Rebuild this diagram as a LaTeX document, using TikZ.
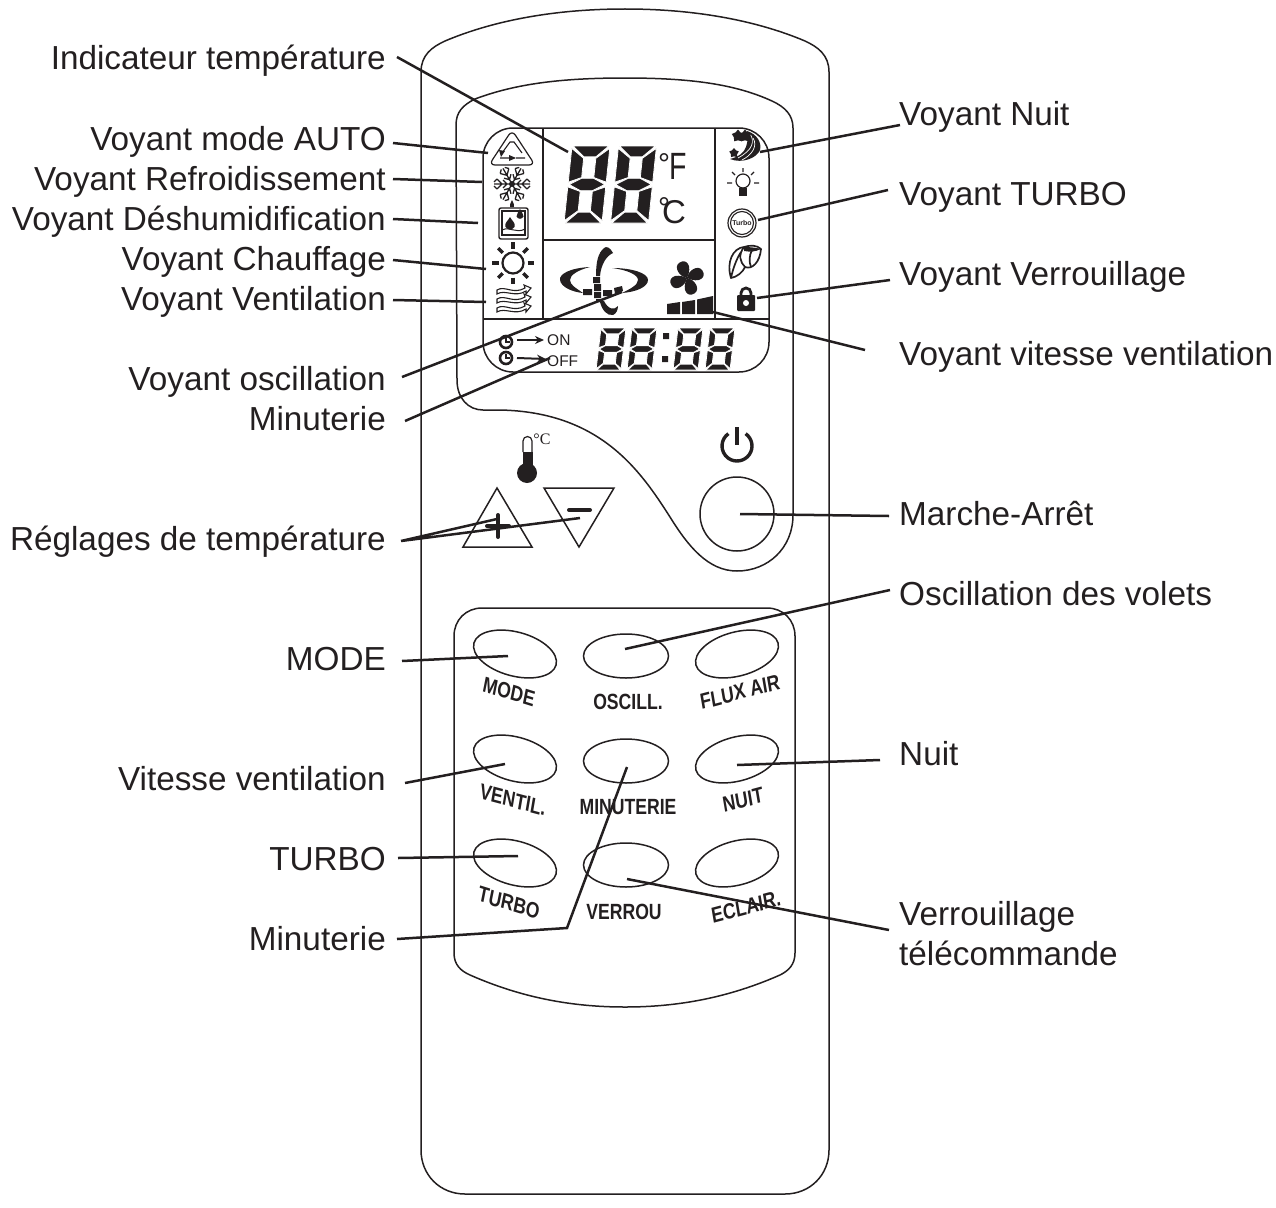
\documentclass[tikz,border=0pt]{standalone}
\usepackage{fontspec}
\setmainfont{Liberation Sans}
\newfontfamily\serifcap{Liberation Serif}
\usetikzlibrary{shapes.geometric,arrows.meta}
\definecolor{ink}{HTML}{231F20}
\tikzset{
  lblr/.style={anchor=base east,inner sep=0pt,text=ink,font=\fontsize{33.3}{33}\selectfont},
  lbll/.style={anchor=base west,inner sep=0pt,text=ink,font=\fontsize{33.3}{33}\selectfont},
  outline/.style={draw=ink,line width=1.5pt},
  leader/.style={draw=ink,line width=2.5pt},
  btn/.style={ellipse,draw=ink,line width=1.5pt,inner sep=0pt,minimum width=85pt,minimum height=44pt},
  btxt/.style={inner sep=0pt,text=ink,font=\fontsize{22}{22}\selectfont\bfseries,xscale=.8,transform shape},
  thin/.style={draw=ink,line width=1pt},
  seg/.style={fill=ink,draw=white,line width=.8pt,line join=miter}
}
\newcommand{\segdigit}[7]{%
\begin{scope}[shift={(#1,#2)},x={(#3pt,0pt)},y={(#4pt,#5pt)}]
\def\dl{#6}\def\dr{#7}
\path[seg] (.03,1)--(.97,1)--(\dr,.86)--(\dl,.86)--cycle;
\path[seg] (1,.97)--(1,.53)--(\dr,.59)--(\dr,.84)--cycle;
\path[seg] (1,.47)--(1,.03)--(\dr,.16)--(\dr,.41)--cycle;
\path[seg] (.03,0)--(.97,0)--(\dr,.14)--(\dl,.14)--cycle;
\path[seg] (0,.47)--(0,.03)--(\dl,.16)--(\dl,.41)--cycle;
\path[seg] (0,.97)--(0,.53)--(\dl,.59)--(\dl,.84)--cycle;
\path[seg] (.03,.5)--(\dl,.58)--(\dr,.58)--(.97,.5)--(\dr,.42)--(\dl,.42)--cycle;
\end{scope}}
\newcommand{\windline}[1]{%
\begin{scope}[shift={(497,#1)}]
\draw[thin,line width=1.1pt] (0,-1) .. controls (8,-6) and (16,4) .. (28,-3) -- (27,-6) -- (34,-3) -- (29,3) -- (29,0) .. controls (18,7) and (8,-2) .. (0,3) -- cycle;
\end{scope}}
\begin{document}
\begin{tikzpicture}[x=1pt,y=-1pt]
\useasboundingbox (0,0) rectangle (1276,1207);
% body
\draw[outline] (421,1150) -- (421,72) .. controls (421,55) and (432,47) .. (445,41)
  .. controls (490,22) and (550,9) .. (625,9) .. controls (700,9) and (760,22) .. (805,41)
  .. controls (818,47) and (829,55) .. (829,72) -- (829,1150)
  .. controls (829,1175) and (810,1194) .. (785,1194) -- (465,1194)
  .. controls (440,1194) and (421,1175) .. (421,1150) -- cycle;
% bezel
\draw[outline] (456,125) .. controls (456,112) and (463,105) .. (475,99)
  .. controls (515,84) and (560,78) .. (625,78) .. controls (690,78) and (735,84) .. (772,101)
  .. controls (785,107) and (793,115) .. (793,128) -- (793,515)
  .. controls (793,548) and (768,571) .. (737,571)
  .. controls (708,571) and (688,546) .. (670,517)
  .. controls (640,470) and (600,412) .. (500,410) -- (483,410)
  .. controls (468,410) and (457,398) .. (457,380) -- cycle;
% LCD frame
\draw[outline,rounded corners=30pt] (483,128) rectangle (769,372);
\draw[outline] (483,319) -- (769,319) (543,128) -- (543,319) (715,128) -- (715,319) (543,240) -- (715,240);
% digits
\segdigit{564}{223}{38}{8}{77}{.34}{.66}
\segdigit{610.5}{223}{38}{8}{77}{.34}{.66}
\segdigit{596}{370}{25}{5}{42}{.26}{.74}
\segdigit{627}{370}{25}{5}{42}{.26}{.74}
\segdigit{673}{370}{25}{5}{42}{.26}{.74}
\segdigit{705}{370}{25}{5}{42}{.26}{.74}
\fill[ink] (663,333) rectangle (669,339) (662,356) rectangle (668,362);
\node[inner sep=0pt,text=ink,font=\fontsize{30}{30}\selectfont,anchor=base west] (degf) at (658,174) {°};
\node[inner sep=0pt,text=ink,font=\fontsize{38}{38}\selectfont,anchor=base west,xscale=.75,transform shape] (ff) at (669,179) {F};
\node[inner sep=0pt,text=ink,font=\fontsize{30}{30}\selectfont,anchor=base west] (degc) at (658,218) {°};
\node[inner sep=0pt,text=ink,font=\fontsize{33}{33}\selectfont,anchor=base west] (cc) at (662,223) {C};
% recycle
\draw[thin,line width=1.2pt,rounded corners=6pt] (512,130) -- (535,165) -- (489,165) -- cycle;
\draw[thin,line width=1.1pt] (502,153) -- (510,142) -- (514,142) -- (522,153) (500,158) -- (509,158) (516,158) -- (525,158);
\fill[ink] (509,155) -- (516,158) -- (509,161) -- cycle;
\fill[ink] (499,150) -- (505,151) -- (501,157) -- cycle;
% snowflake
\foreach \a in {0,60,...,300}{
  \begin{scope}[shift={(512,184)},rotate=\a]
  \draw[thin,line width=1.3pt] (0,0) -- (18,0) (5,0) -- (9,-4) (5,0) -- (9,4) (10,0) -- (15,-5) (10,0) -- (15,5) (15,-5) -- (18,-2) (15,5) -- (18,2);
  \end{scope}}
\fill[ink] (512,184) circle (3);
% humid box
\draw[thin,line width=1.4pt,rounded corners=2pt] (499,208) rectangle (528,239);
\draw[thin,line width=1.4pt] (502,211) rectangle (525,235);
\fill[ink] (512,200) .. controls (513,203) and (515,205) .. (514,207) -- (510,207) .. controls (509,205) and (511,203) .. (512,200) -- cycle;
\fill[ink] (510,217) .. controls (512,221) and (516,223) .. (514.5,227) .. controls (513,230) and (507,230) .. (505.5,227) .. controls (504,223) and (508,221) .. (510,217) -- cycle;
\fill[ink] (520,209) .. controls (521,212) and (524,214) .. (523.5,216.5) .. controls (522,219.5) and (518,219.5) .. (516.5,216.5) .. controls (516,214) and (519,212) .. (520,209) -- cycle;
\draw[thin] (502,230) .. controls (510,226) and (516,234) .. (525,229);
% sun
\draw[thin,line width=2.2pt] (513,263) circle (10.5);
\foreach \a in {0,45,...,315}{
  \begin{scope}[shift={(513,263)},rotate=\a]
  \draw[ink,line width=3.2pt] (14.5,0) -- (21,0);
  \end{scope}}
% wind
\windline{291}\windline{300}\windline{309}
% moon
\fill[ink] (747,131) .. controls (757,134) and (762,143) .. (760,150) .. controls (757,158) and (742,164) .. (730,159)
  .. controls (738,157) and (744,153) .. (746,147) .. controls (748,141) and (748,136) .. (747,131) -- cycle;
\draw[white,line width=.7pt] (750,134) .. controls (755,141) and (753,150) .. (738,158);
\draw[white,line width=.7pt] (753,138) .. controls (758,146) and (752,155) .. (742,160);
\node[star,star points=5,fill=ink,inner sep=0pt,minimum size=13pt] (st1) at (738,136) {};
\node[star,star points=5,fill=ink,inner sep=0pt,minimum size=13pt] (st2) at (745,136) {};
\node[star,star points=5,fill=ink,inner sep=0pt,minimum size=10pt] (st3) at (734,153) {};
% bulb
\draw[thin,line width=1.2pt] (743,181) circle (7);
\fill[ink] (739,188) rectangle (747,196);
\draw[ink,line width=1.1pt] (743,168) -- (743,172) (732,172) -- (735,175) (754,172) -- (751,175) (727,183) -- (732,183) (754,183) -- (759,183);
% turbo badge
\draw[thin,line width=1.2pt] (742,223) circle (14);
\draw[thin,line width=1.1pt] (742,223) circle (11.5);
\node[inner sep=0pt,text=ink,font=\fontsize{7}{7}\selectfont\bfseries] (tbadge) at (742,223) {Turbo};
% leaf
\draw[thin,line width=1.7pt,line join=round] (731,278) .. controls (726,262) and (733,248) .. (744,247) .. controls (750,245) and (757,245) .. (761,249)
  .. controls (760,262) and (752,270) .. (745,267) .. controls (743,272) and (737,277) .. (731,278) -- cycle;
\fill[ink] (744,247) .. controls (752,247) and (757,248) .. (761,249) .. controls (755,252) and (750,252) .. (744,251) -- cycle;
\draw[thin,line width=1.7pt] (744,247) .. controls (738,255) and (740,262) .. (745,267) (752,250) .. controls (749,256) and (749,262) .. (751,267) (731,278) .. controls (733,268) and (737,258) .. (741,252);
% lock
\draw[ink,line width=2.8pt] (741,296) -- (741,293) arc[start angle=180,end angle=360,radius=5] -- (751,296);
\fill[ink,rounded corners=1pt] (737,295) rectangle (755,311);
\fill[white] (746,303) circle (3);
% swing
\fill[ink] (590,267) .. controls (570,268) and (559,274) .. (560,280) .. controls (561,287) and (572,292) .. (583,293)
  .. controls (576,288) and (570,285) .. (570,280) .. controls (570,275) and (578,270) .. (590,267) -- cycle;
\fill[ink] (612,268) .. controls (632,268) and (648,273) .. (648,280) .. controls (648,287) and (636,292) .. (622,293)
  .. controls (630,289) and (638,285) .. (638,280) .. controls (638,275) and (628,270) .. (612,268) -- cycle;
\fill[ink] (613,253) .. controls (610,247) and (606,246) .. (604,248) .. controls (598,253) and (596,262) .. (596,276) -- (600,276) .. controls (601,265) and (606,256) .. (613,253) -- cycle;
\fill[ink] (600,302) .. controls (602,310) and (607,316) .. (613,315) .. controls (616,314) and (618,310) .. (618,306) .. controls (614,311) and (608,309) .. (604,301) -- cycle;
\fill[ink] (593,277) rectangle (600,283) (594,284) rectangle (601,291) (594,292) rectangle (601,298) (596,299) rectangle (603,302);
\fill[ink] (583,289) rectangle (592,295) (603,290) rectangle (612,296) (614,288) -- (622,286) -- (623,291) -- (615,294) -- cycle;
% fan
\foreach \a in {20,110,200,290}{
  \begin{scope}[shift={(687,278)},rotate=\a]
  \fill[ink] (0,0) .. controls (-7,-4) and (-9,-15) .. (-2,-17) .. controls (6,-19) and (10,-10) .. (0,0) -- cycle;
  \end{scope}}
% bars
\fill[ink] (667,304) -- (680,302) -- (680,314) -- (667,314) -- cycle;
\fill[ink] (682,302) -- (695,300) -- (695,314) -- (682,314) -- cycle;
\fill[ink] (697,299.5) -- (713,296) -- (713,314) -- (697,314) -- cycle;
% clocks
\foreach \yy in {342,358}{
  \draw[ink,line width=2.6pt] (506,\yy) circle (6);
  \draw[ink,line width=2pt] (506,\yy-4) -- (506,\yy) -- (510,\yy);
}
\draw[ink,line width=2pt,-{Stealth[length=9pt,width=8pt]}] (517,340) -- (544,340);
\draw[ink,line width=2pt,-{Stealth[length=9pt,width=8pt]}] (517,358) -- (546,359);
\node[inner sep=0pt,text=ink,font=\fontsize{15.5}{15.5}\selectfont,anchor=base west] (on) at (547,345) {ON};
\node[inner sep=0pt,text=ink,font=\fontsize{15.5}{15.5}\selectfont,anchor=base west] (off) at (547,366) {OFF};
% thermometer
\draw[thin,line width=1.2pt] (523,452) -- (523,441) arc[start angle=180,end angle=360,radius=4.5] -- (532,452);
\fill[ink] (522.5,452) rectangle (532.5,470);
\fill[ink] (527,473) circle (10);
\node[inner sep=0pt,text=ink,font=\serifcap\fontsize{16}{16}\selectfont] (tdeg) at (542,439) {°C};
% triangles
\draw[outline] (497,488) -- (532,547) -- (463,547) -- cycle;
\draw[outline] (544,488) -- (614,488) -- (579,547) -- cycle;
\draw[ink,line width=4pt,line cap=round] (487,526) -- (509,526) (498,515) -- (498,537) (569,510) -- (590,510);
% power
\node[circle,draw=ink,line width=1.5pt,minimum size=74pt,inner sep=0pt] (power) at (737,514) {};
\draw[ink,line width=3.4pt] (745.6,433.7) arc[start angle=305,end angle=595,radius=15];
\draw[ink,line width=3.4pt] (737,427) -- (737,445);
% keypad
\draw[outline] (454,953) -- (454,636) .. controls (454,620) and (466,608) .. (482,608) -- (767,608)
  .. controls (783,608) and (795,620) .. (795,636) -- (795,953)
  .. controls (795,965) and (788,971) .. (780,975)
  .. controls (730,997) and (680,1007) .. (625,1007) .. controls (570,1007) and (520,997) .. (470,975)
  .. controls (461,971) and (454,965) .. (454,953) -- cycle;
% buttons
\node[btn,rotate=-15] (b1) at (515,654) {};
\node[btn] (b2) at (626,656) {};
\node[btn,rotate=15] (b3) at (737,654) {};
\node[btn,rotate=-15] (b4) at (515,759) {};
\node[btn] (b5) at (626,761) {};
\node[btn,rotate=15] (b6) at (737,759) {};
\node[btn,rotate=-15] (b7) at (515,863) {};
\node[btn] (b8) at (626,865) {};
\node[btn,rotate=15] (b9) at (737,863) {};
\node[btxt,rotate=-14] (t1) at (509,692) {MODE};
\node[btxt] (t2) at (628,702) {OSCILL.};
\node[btxt,rotate=12] (t3) at (740,692) {FLUX AIR};
\node[btxt,rotate=-12] (t4) at (513,800) {VENTIL.};
\node[btxt] (t5) at (628,807) {MINUTERIE};
\node[btxt,rotate=12] (t6) at (743,800) {NUIT};
\node[btxt,rotate=-14] (t7) at (509,903) {TURBO};
\node[btxt] (t8) at (624,912) {VERROU};
\node[btxt,rotate=12] (t9) at (746,907) {ECLAIR.};
% labels left
\node[lblr] (l1) at (386,70) {Indicateur température};
\node[lblr] (l2) at (386,150) {Voyant mode AUTO};
\node[lblr] (l3) at (386,190) {Voyant Refroidissement};
\node[lblr] (l4) at (386,230) {Voyant Déshumidification};
\node[lblr] (l5) at (386,270) {Voyant Chauffage};
\node[lblr] (l6) at (386,310) {Voyant Ventilation};
\node[lblr] (l7) at (386,390) {Voyant oscillation};
\node[lblr] (l8) at (386,430) {Minuterie};
\node[lblr] (l9) at (386,550) {Réglages de température};
\node[lblr] (l10) at (386,670) {MODE};
\node[lblr] (l11) at (386,790) {Vitesse ventilation};
\node[lblr] (l12) at (386,870) {TURBO};
\node[lblr] (l13) at (386,950) {Minuterie};
% labels right
\node[lbll] (r1) at (899,125) {Voyant Nuit};
\node[lbll] (r2) at (899,205) {Voyant TURBO};
\node[lbll] (r3) at (899,285) {Voyant Verrouillage};
\node[lbll] (r4) at (899,365) {Voyant vitesse ventilation};
\node[lbll] (r5) at (899,525) {Marche-Arrêt};
\node[lbll] (r6) at (899,605) {Oscillation des volets};
\node[lbll] (r7) at (899,765) {Nuit};
\node[lbll] (r8) at (899,925) {Verrouillage};
\node[lbll] (r9) at (899,965) {télécommande};
% leader ends
\coordinate (a1) at (397,57);   \coordinate (e1) at (568,152);
\coordinate (a2) at (393,143);  \coordinate (e2) at (488,153);
\coordinate (a3) at (393,179);  \coordinate (e3) at (482,182);
\coordinate (a4) at (393,219);  \coordinate (e4) at (478,223);
\coordinate (a5) at (393,260);  \coordinate (e5) at (486,269);
\coordinate (a6) at (393,300);  \coordinate (e6) at (486,302);
\coordinate (a7) at (402,377);  \coordinate (e7) at (622,292);
\coordinate (a8) at (405,421);  \coordinate (e8) at (550,358);
\coordinate (a9) at (401,541);  \coordinate (e9) at (497,519);  \coordinate (e9b) at (580,518);
\coordinate (a10) at (402,661); \coordinate (e10) at (508,656);
\coordinate (a11) at (405,783); \coordinate (e11) at (505,764);
\coordinate (a12) at (398,858); \coordinate (e12) at (518,856);
\coordinate (a13) at (397,939); \coordinate (k13) at (567,928); \coordinate (e13) at (627,767);
\coordinate (c1) at (900,125);  \coordinate (f1) at (760,152);
\coordinate (c2) at (888,190);  \coordinate (f2) at (758,220);
\coordinate (c3) at (890,280);  \coordinate (f3) at (757,298);
\coordinate (c4) at (865,350);  \coordinate (f4) at (713,312);
\coordinate (c5) at (889,516);  \coordinate (f5) at (740,514);
\coordinate (c6) at (890,590);  \coordinate (f6) at (625,649);
\coordinate (c7) at (880,760);  \coordinate (f7) at (737,765);
\coordinate (c8) at (889,930);  \coordinate (f8) at (627,879);
\draw[leader] (a1)--(e1) (a2)--(e2) (a3)--(e3) (a4)--(e4) (a5)--(e5) (a6)--(e6) (a7)--(e7) (a8)--(e8)
  (a9)--(e9) (a9)--(e9b) (a10)--(e10) (a11)--(e11) (a12)--(e12) (a13)--(k13)--(e13);
\draw[leader] (c1)--(f1) (c2)--(f2) (c3)--(f3) (c4)--(f4) (c5)--(f5) (c6)--(f6) (c7)--(f7) (c8)--(f8);
\end{tikzpicture}
\end{document}
